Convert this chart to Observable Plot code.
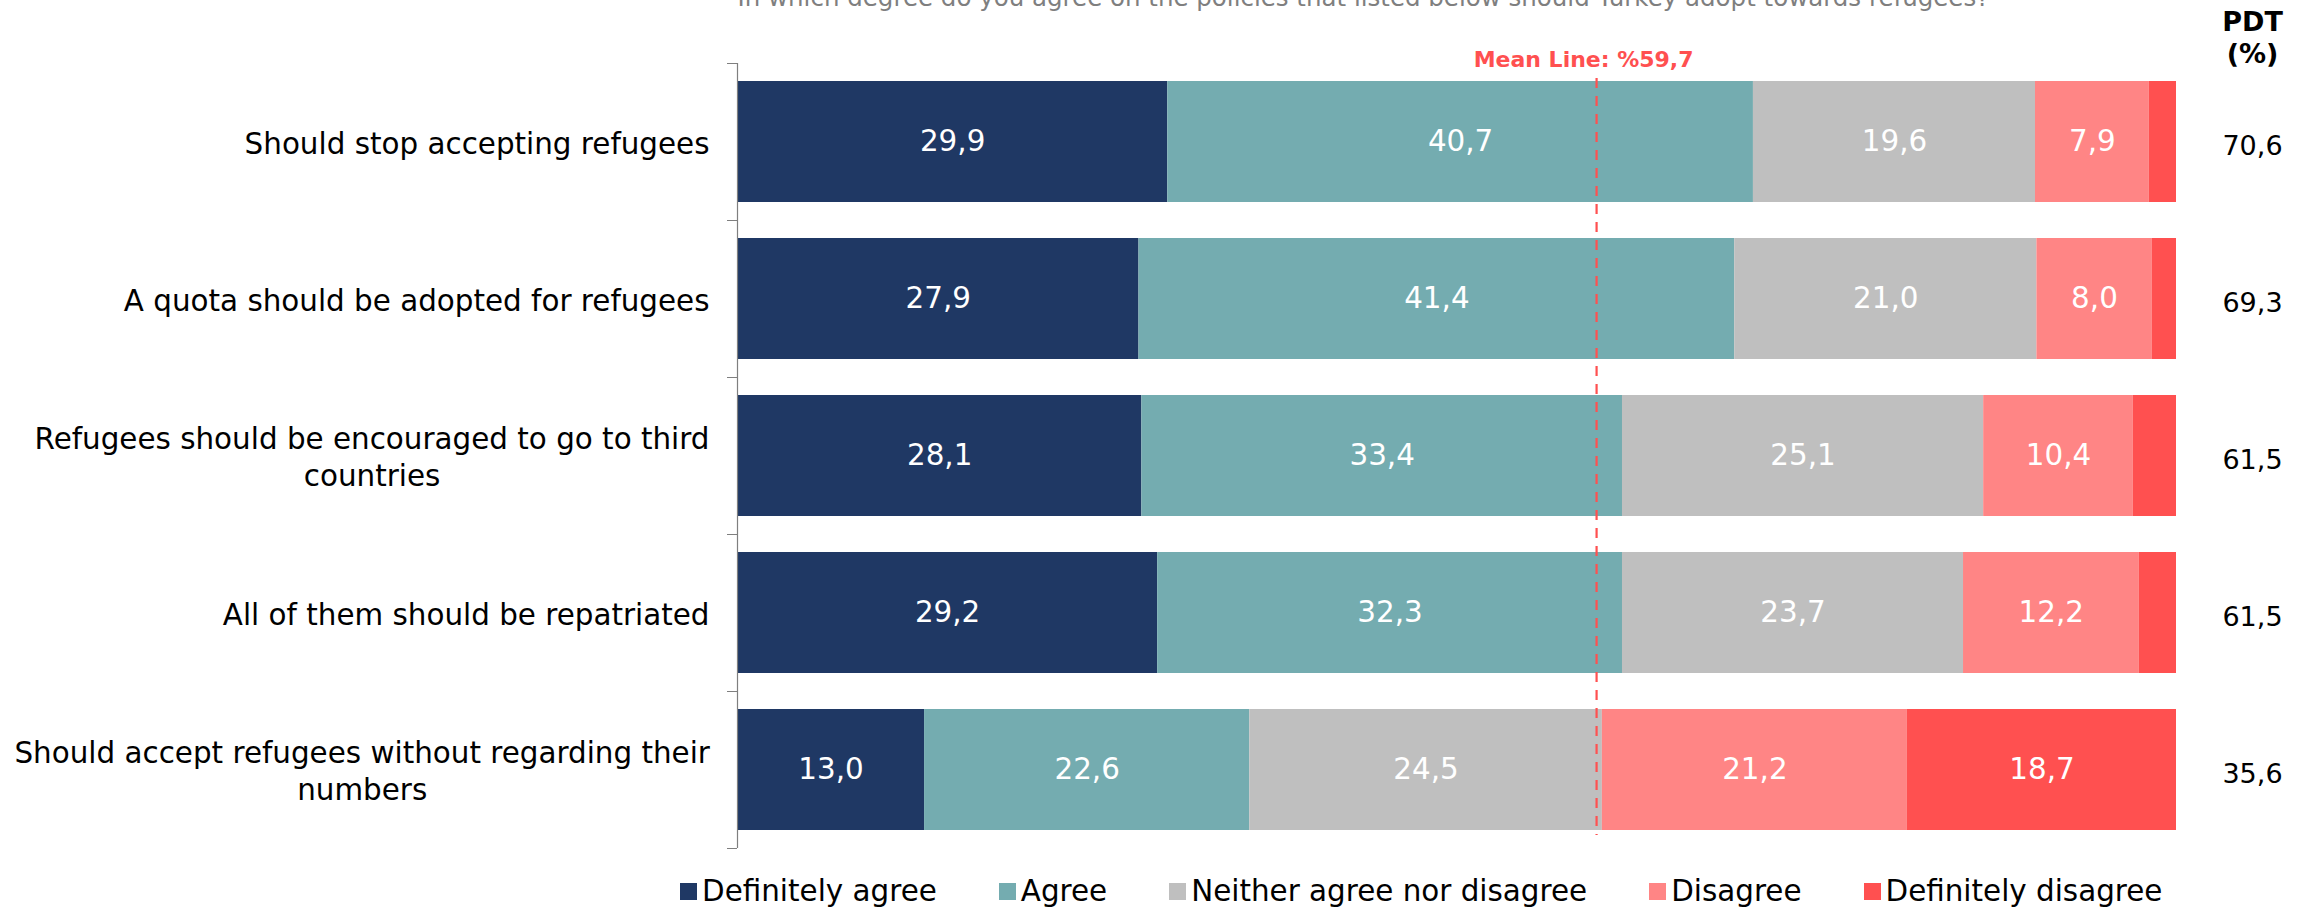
<!DOCTYPE html>
<html>
<head>
<meta charset="utf-8">
<script src="https://cdn.jsdelivr.net/npm/d3@7"></script>
<script src="https://cdn.jsdelivr.net/npm/@observablehq/plot@0.6"></script>
<style>
  html, body { margin: 0; padding: 0; background: #fff; overflow: hidden; }
  body { width: 2310px; height: 908px; font-family: "DejaVu Sans", Verdana, sans-serif; }
  #legend { display: flex; align-items: center; height: 40px; padding-left: 680px; gap: 62px; font-size: 29.4px; color: #000; box-sizing: border-box; padding-top: 6px; }
  #legend .item { display: flex; align-items: center; white-space: nowrap; }
  #legend .sw { width: 17px; height: 17px; margin-right: 5px; display: inline-block; }
</style>
</head>
<body>
<div id="chart"></div>
<div id="legend"></div>
<script>
// ---- data ----
const categories = [
  "Should stop accepting refugees",
  "A quota should be adopted for refugees",
  "Refugees should be encouraged to go to third countries",
  "All of them should be repatriated",
  "Should accept refugees without regarding their numbers"
];
const tickLabels = [
  "Should stop accepting refugees",
  "A quota should be adopted for refugees",
  "Refugees should be encouraged to go to third\ncountries",
  "All of them should be repatriated",
  "Should accept refugees without regarding their\nnumbers"
];
const responses = ["Definitely agree", "Agree", "Neither agree nor disagree", "Disagree", "Definitely disagree"];
const colors = ["#1F3864", "#74ACB0", "#BFBFBF", "#FF8585", "#FF5050"];
const definitelyAgree    = [29.9, 27.9, 28.1, 29.2, 13.0];
const agree              = [40.7, 41.4, 33.4, 32.3, 22.6];
const neither            = [19.6, 21.0, 25.1, 23.7, 24.5];
const disagree           = [7.9, 8.0, 10.4, 12.2, 21.2];
const definitelyDisagree = [1.9, 1.7, 3.0, 2.6, 18.7];
const pdt = [70.6, 69.3, 61.5, 61.5, 35.6];
const meanValue = 59.7;
const subtitle = "In which degree do you agree on the policies that listed below should Turkey adopt towards refugees?";

// ---- build table ----
const seriesValues = [definitelyAgree, agree, neither, disagree, definitelyDisagree];
const data = [];
categories.forEach((q, i) => {
  responses.forEach((r, j) => data.push({q, resp: r, value: seriesValues[j][i]}));
});
const pdtData = categories.map((q, i) => ({q, v: pdt[i]}));
const fmt = v => v.toFixed(1).replace(".", ",");
const labelOf = new Map(categories.map((c, i) => [c, tickLabels[i]]));

const W = 2310, H = 868, mt = 63, mb = 20, ml = 737, mr = 134;
const step = (H - mt - mb) / categories.length;

const plot = Plot.plot({
  width: W, height: H,
  marginTop: mt, marginBottom: mb, marginLeft: ml, marginRight: mr,
  style: {fontFamily: "DejaVu Sans, Verdana, sans-serif", background: "white", color: "black"},
  x: {domain: [0, 100], axis: null},
  y: {domain: categories, paddingInner: 0.23, paddingOuter: 0.115, axis: null, label: null},
  color: {domain: responses, range: colors},
  marks: [
    Plot.barX(data, Plot.stackX({y: "q", x: "value", fill: "resp", order: responses})),
    Plot.text(data, Plot.stackX({
      y: "q", x: "value", z: "resp", order: responses,
      text: d => d.value > 5 ? fmt(d.value) : "",
      fill: "white", fontSize: 29.4, lineAnchor: "middle"
    })),
    Plot.ruleX([meanValue], {stroke: "#FF5050", strokeWidth: 2.2, strokeDasharray: "10,8", insetTop: 15, insetBottom: 13}),
    Plot.text([meanValue], {x: d => d, frameAnchor: "top", lineAnchor: "bottom", dy: 3, dx: -13,
      text: d => "Mean Line: %" + fmt(d), fill: "#FF5050", fontWeight: "bold", fontSize: 22}),
    Plot.ruleX([0], {stroke: "#7F7F7F", strokeWidth: 1.2}),
    Plot.axisY({label: null, tickSize: 0, tickPadding: 28, fontSize: 29.4, lineHeight: 1.26, tickFormat: d => labelOf.get(d), textAnchor: "end"}),
    Plot.axisY({label: null, tickSize: 10, tickFormat: () => "", dy: -step / 2, stroke: "#7F7F7F"}),
    Plot.axisY([categories[categories.length - 1]], {label: null, tickSize: 10, tickFormat: () => "", dy: step / 2, stroke: "#7F7F7F"}),
    Plot.text(pdtData, {y: "q", frameAnchor: "right", dx: 76, textAnchor: "middle", text: d => fmt(d.v), fontSize: 27, lineAnchor: "middle", dy: 4, fill: "black"}),
    Plot.text(["PDT\n(%)"], {frameAnchor: "top-right", dx: 76, textAnchor: "middle", lineAnchor: "bottom", dy: -1, fontSize: 27, fontWeight: "bold", lineHeight: 1.185, fill: "black"}),
    Plot.text([subtitle], {frameAnchor: "top-left", textAnchor: "start", lineAnchor: "bottom", dy: 5 - mt, fontSize: 24.5, fill: "#7F7F7F"})
  ]
});
document.getElementById("chart").append(plot);

// center the lines of wrapped category labels within their block (right-aligned block)
plot.querySelectorAll('g[aria-label="y-axis tick label"] text').forEach(t => {
  const spans = t.querySelectorAll("tspan");
  if (spans.length > 1) {
    const bb = t.getBBox();
    const cx = bb.x + bb.width / 2;
    t.setAttribute("text-anchor", "middle");
    spans.forEach(s => s.setAttribute("x", cx));
  }
});

// legend
const leg = document.getElementById("legend");
responses.forEach((r, i) => {
  const item = document.createElement("div");
  item.className = "item";
  const sw = document.createElement("span");
  sw.className = "sw";
  sw.style.background = colors[i];
  item.append(sw, document.createTextNode(r));
  leg.append(item);
});
</script>
</body>
</html>
